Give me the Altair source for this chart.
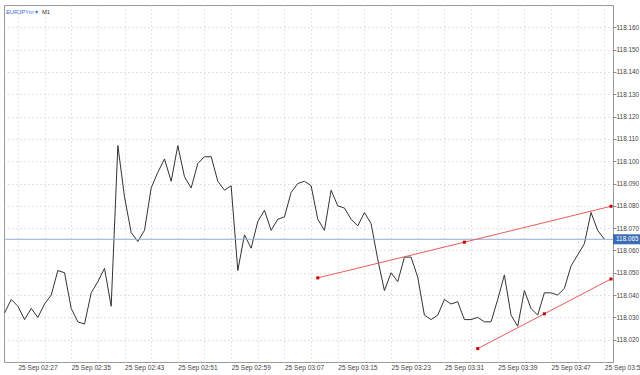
import altair as alt
import pandas as pd

# ---- data (EURJPYm, M1 close prices) ----
prices = [
    118.032, 118.038, 118.035, 118.029, 118.034, 118.030, 118.036, 118.040, 118.051, 118.050,
    118.034, 118.028, 118.027, 118.041, 118.046, 118.052, 118.035, 118.107, 118.084, 118.068,
    118.064, 118.069, 118.088, 118.095, 118.101, 118.091, 118.107, 118.093, 118.088, 118.099,
    118.102, 118.102, 118.091, 118.087, 118.089, 118.051, 118.067, 118.061, 118.073, 118.078,
    118.069, 118.074, 118.075, 118.086, 118.090, 118.091, 118.089, 118.074, 118.069, 118.087,
    118.080, 118.079, 118.074, 118.071, 118.077, 118.072, 118.056, 118.042, 118.050, 118.046,
    118.057, 118.057, 118.048, 118.031, 118.029, 118.031, 118.038, 118.036, 118.037, 118.029,
    118.029, 118.030, 118.028, 118.028, 118.038, 118.049, 118.031, 118.026, 118.042, 118.034,
    118.031, 118.041, 118.041, 118.040, 118.043, 118.053, 118.058, 118.063, 118.077, 118.069,
    118.065,
]
start_time = "2025-09-25 02:25"

upper_times = ["2025-09-25 03:12", "2025-09-25 03:34", "2025-09-25 03:56"]
upper_values = [118.0477, 118.0637, 118.0798]
lower_times = ["2025-09-25 03:36", "2025-09-25 03:46", "2025-09-25 03:56"]
lower_values = [118.0160, 118.0316, 118.0472]

current_price = 118.065
y_tick_values = [118.020, 118.030, 118.040, 118.050, 118.060, 118.070, 118.080,
                 118.090, 118.100, 118.110, 118.120, 118.130, 118.140, 118.150, 118.160]
x_grid_times = pd.date_range("2025-09-25 02:27", "2025-09-25 03:55", freq="4min")

# ---- tables ----
df = pd.DataFrame({
    "time": pd.date_range(start_time, periods=len(prices), freq="min"),
    "price": prices,
})
trend = pd.DataFrame({
    "time": pd.to_datetime(upper_times + lower_times),
    "price": upper_values + lower_values,
    "line": ["upper"] * 3 + ["lower"] * 3,
})
cur = pd.DataFrame({"price": [current_price], "label": [f"{current_price:.3f}"]})


def dt(ts, s=0):
    return alt.DateTime(year=ts.year, month=ts.month, date=ts.day,
                        hours=ts.hour, minutes=ts.minute, seconds=s)


x_values = [dt(t) for t in x_grid_times]
x_domain = [dt(pd.Timestamp("2025-09-25 02:24"), 55), dt(pd.Timestamp("2025-09-25 03:56"), 18)]

FONT = "Liberation Sans"
GRID = "#dcdcdc"
LABEL_SIZE = 6.4

x_enc = alt.X(
    "time:T",
    scale=alt.Scale(domain=x_domain),
    axis=alt.Axis(
        values=x_values,
        labelExpr="(hours(datum.value)*60 + minutes(datum.value) - 147) % 8 == 0 ? timeFormat(datum.value, '%d %b %H:%M') : ''",
        labelAlign="left",
        labelPadding=2,
        labelFontSize=6.6,
        labelFont=FONT,
        labelColor="#444444",
        labelOverlap=False,
        labelFlush=False,
        ticks=False,
        domain=False,
        grid=True,
        gridColor=GRID,
        gridDash=[1.5, 2.5],
        title=None,
    ),
)
y_enc = alt.Y(
    "price:Q",
    scale=alt.Scale(domain=[118.010, 118.170], zero=False, nice=False),
    axis=alt.Axis(
        orient="right",
        values=y_tick_values,
        format=".3f",
        labelFontSize=LABEL_SIZE,
        labelFont=FONT,
        labelColor="#444444",
        labelPadding=0,
        labelOverlap=False,
        labelSeparation=0,
        labelFlush=False,
        tickSize=3,
        tickColor="#888888",
        domainColor="#999999",
        grid=True,
        gridColor=GRID,
        gridDash=[1.5, 2.5],
        title=None,
    ),
)

price_line = alt.Chart(df).mark_line(color="#333333", strokeWidth=1).encode(x=x_enc, y=y_enc)

cur_rule = alt.Chart(cur).mark_rule(color="#97aed6", strokeWidth=1).encode(y=y_enc)

trend_lines = alt.Chart(trend).mark_line(color="#e65c5c", strokeWidth=1).encode(
    x=x_enc, y=y_enc, detail="line:N"
)
trend_pts = alt.Chart(trend).mark_square(color="#c40000", size=9, opacity=1).encode(
    x=x_enc, y=y_enc
)

cur_box = alt.Chart(cur).mark_tick(color="#3c6db4", size=27, thickness=10, opacity=1).encode(
    y=y_enc, x=alt.value(622.5)
)
cur_text = alt.Chart(cur).mark_text(
    color="white", fontSize=LABEL_SIZE, font=FONT, align="left", baseline="middle"
).encode(y=y_enc, x=alt.value(612), text="label:N")

sym = alt.Chart(pd.DataFrame({"t": ["EURJPYm \u25be"]})).mark_text(
    color="#2f6fcf", fontSize=5.8, font=FONT, align="left", baseline="middle"
).encode(text="t:N", x=alt.value(2), y=alt.value(7))
tf = alt.Chart(pd.DataFrame({"t": ["M1"]})).mark_text(
    color="#333333", fontSize=5.8, font=FONT, align="left", baseline="middle"
).encode(text="t:N", x=alt.value(38), y=alt.value(7))

chart = (
    alt.layer(price_line, cur_rule, trend_lines, trend_pts, cur_box, cur_text, sym, tf)
    .properties(
        width=609,
        height=357,
        autosize=alt.AutoSizeParams(type="none"),
        padding={"left": 4, "top": 5, "right": 27, "bottom": 13},
        background="white",
    )
    .configure_view(stroke="#9a9a9a", strokeWidth=1)
)

chart.save("out.html", embed_options={"renderer": "svg", "actions": False})
